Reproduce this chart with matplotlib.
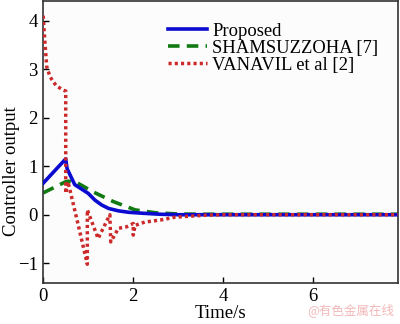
import matplotlib
matplotlib.use("Agg")
import matplotlib.pyplot as plt

# Proposed
t_prop = [0, 0.5, 0.53, 0.7, 1.0, 1.15, 1.3, 1.45, 1.67, 1.9, 2.22, 2.6, 3.0, 4.0, 8.0]
y_prop = [0.65, 1.15, 0.95, 0.62, 0.44, 0.30, 0.20, 0.13, 0.08, 0.05, 0.03, 0.01, 0.0, 0.0, 0.0]

# SHAMSUZZOHA [7]
t_sham = [0, 0.5, 0.56, 0.75, 1.11, 1.56, 2.04, 2.5, 3.0, 3.5, 4.0, 5.0, 6.0, 8.0]
y_sham = [0.45, 0.68, 0.69, 0.66, 0.47, 0.27, 0.10, 0.04, 0.015, 0.01, 0.01, 0.01, 0.01, 0.01]

# VANAVIL et al [2]
t_van = [0, 0.02, 0.05, 0.08, 0.15, 0.22, 0.3, 0.44, 0.49, 0.5, 0.5, 0.55, 0.75, 0.98,
         0.98, 1.22, 1.48, 1.5, 1.67, 1.85, 2.0, 2.0, 2.04, 2.26, 2.6, 2.93, 3.26, 3.6, 4.0, 8.0]
y_van = [4.1, 3.8, 3.4, 3.04, 2.85, 2.74, 2.65, 2.57, 2.55, 2.55, 0.44, 0.68, -0.1, -1.02,
         0.1, -0.49, 0.0, -0.56, -0.28, -0.25, -0.18, -0.42, -0.22, -0.15, -0.11, -0.05, -0.03, -0.01, 0.0, 0.0]

x_ticks = [0, 2, 4, 6]
y_ticks = [-1, 0, 1, 2, 3, 4]

plt.rcParams['font.family'] = ['Liberation Serif', 'DejaVu Serif']
fig = plt.figure(figsize=(4.0, 3.24), dpi=100)
fig.patch.set_facecolor('white')
ax = fig.add_axes([0.108, 0.1275, 0.887, 0.8705])
ax.set_facecolor('#fcfcfc')

ax.plot(t_prop, y_prop, color='#0a0ad0', lw=2.6, label='Proposed', zorder=3)
ax.plot(t_sham, y_sham, color='#127a12', lw=2.6, ls=(0, (3.2, 2.0)), label='SHAMSUZZOHA [7]', zorder=2)
ax.plot(t_van, y_van, color='#cc2a2a', lw=2.5, ls=(0, (0.9, 0.9)), label='VANAVIL et al [2]', zorder=4)

ax.set_xlim(0, 7.88)
ax.set_ylim(-1.40, 4.41)
ax.set_xticks(x_ticks)
ax.set_yticks(y_ticks)
ax.set_yticklabels(['\u22121', '0', '1', '2', '3', '4'])
ax.tick_params(direction='in', length=4, width=1, labelsize=13.5, top=False, right=False, pad=4)
for s in ax.spines.values():
    s.set_linewidth(1.2)
    s.set_color('#333333')

ax.set_xlabel('Time/s', fontsize=13.5, labelpad=0)
ax.set_ylabel('Controller output', fontsize=13.5)
ax.yaxis.set_label_coords(-0.064, 0.395)

leg = ax.legend(loc='upper left', bbox_to_anchor=(0.33, 0.948), frameon=False, fontsize=13.4,
                handlelength=2.1, handletextpad=0.3, labelspacing=0.0, borderaxespad=0)

fig.text(0.985, 0.02, '@有色金属在线', color='#f2b8b8', fontsize=9, ha='right', va='bottom',
         family=['Noto Sans CJK SC', 'DejaVu Sans'])

fig.savefig('out.png', dpi=100)
